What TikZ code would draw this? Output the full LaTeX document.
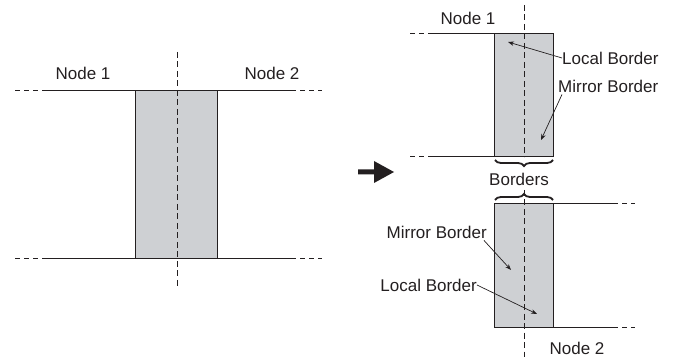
\documentclass[tikz,border=0pt]{standalone}
\usepackage{fontspec}
\setmainfont{Liberation Sans}
\usetikzlibrary{arrows.meta,decorations.pathreplacing}
\definecolor{boxgray}{RGB}{206,208,211}
\definecolor{ink}{RGB}{35,31,32}
\tikzset{
  box/.style={fill=boxgray,draw=ink,line width=1pt},
  wire/.style={draw=ink,line width=1pt},
  dwire/.style={draw=ink,line width=1pt,dash pattern=on 5pt off 4pt},
  axis/.style={draw=ink,line width=1pt,dash pattern=on 6pt off 3.5pt},
  lbl/.style={inner sep=0pt,font=\fontsize{17}{20}\selectfont,text=ink},
  pointer/.style={draw=ink,line width=0.7pt,-{Stealth[length=6pt,width=4.5pt]}},
  brc/.style={draw=ink,line width=1.8pt,decoration={brace,amplitude=6pt},decorate}
}
\begin{document}
\begin{tikzpicture}[x=1pt,y=-1pt]
\useasboundingbox (0,0) rectangle (683,358);
% ---------- left diagram ----------
\draw[box] (135,91) rectangle (217,259);
\draw[dwire] (15,91) -- (43,91);
\draw[wire] (43,91) -- (135,91);
\draw[wire] (217,91) -- (291,91);
\draw[dwire] (291,91) -- (322,91);
\draw[dwire] (15,259) -- (43,259);
\draw[wire] (43,259) -- (135,259);
\draw[wire] (217,259) -- (291,259);
\draw[dwire] (291,259) -- (322,259);
\draw[axis] (177,52) -- (177,286);
\node[lbl] (ln1) at (83,73) {Node 1};
\node[lbl] (ln2) at (272,73) {Node 2};
% ---------- big arrow ----------
\fill[ink] (358,169.5) -- (374,169.5) -- (374,161) -- (394,172) -- (374,183) -- (374,174.5) -- (358,174.5) -- cycle;
% ---------- right top ----------
\draw[box] (494,34) rectangle (553,157);
\draw[dwire] (410,34) -- (433,34);
\draw[wire] (433,34) -- (494,34);
\draw[dwire] (410,157) -- (433,157);
\draw[wire] (433,157) -- (494,157);
\draw[axis] (524,5) -- (524,157);
\node[lbl] (rn1) at (468,18) {Node 1};
\node[lbl,anchor=west] (lb1) at (562,58) {Local Border};
\node[lbl,anchor=west] (mb1) at (558,86) {Mirror Border};
\coordinate (lb1t) at (508,42);
\coordinate (mb1t) at (541,140);
\draw[pointer] (lb1.west) -- (lb1t);
\draw[pointer] ([xshift=4pt,yshift=-2pt]mb1.south west) -- (mb1t);
% ---------- braces ----------
\draw[brc] (553,160) -- (495,160);
\node[lbl] (bd) at (519,179) {Borders};
\draw[brc] (495,200) -- (553,200);
% ---------- right bottom ----------
\draw[box] (494,204) rectangle (553,327);
\draw[wire] (553,204) -- (613,204);
\draw[dwire] (613,204) -- (635,204);
\draw[wire] (553,327) -- (613,327);
\draw[dwire] (613,327) -- (635,327);
\draw[axis] (524,190) -- (524,357);
\node[lbl] (rn2) at (577,348) {Node 2};
\node[lbl,anchor=east] (mb2) at (487,232) {Mirror Border};
\node[lbl,anchor=east] (lb2) at (477,285) {Local Border};
\coordinate (mb2t) at (511,270);
\coordinate (lb2t) at (537,314);
\draw[pointer] ([xshift=-3pt,yshift=-2pt]mb2.south east) -- (mb2t);
\draw[pointer] (lb2.east) -- (lb2t);
\end{tikzpicture}
\end{document}
